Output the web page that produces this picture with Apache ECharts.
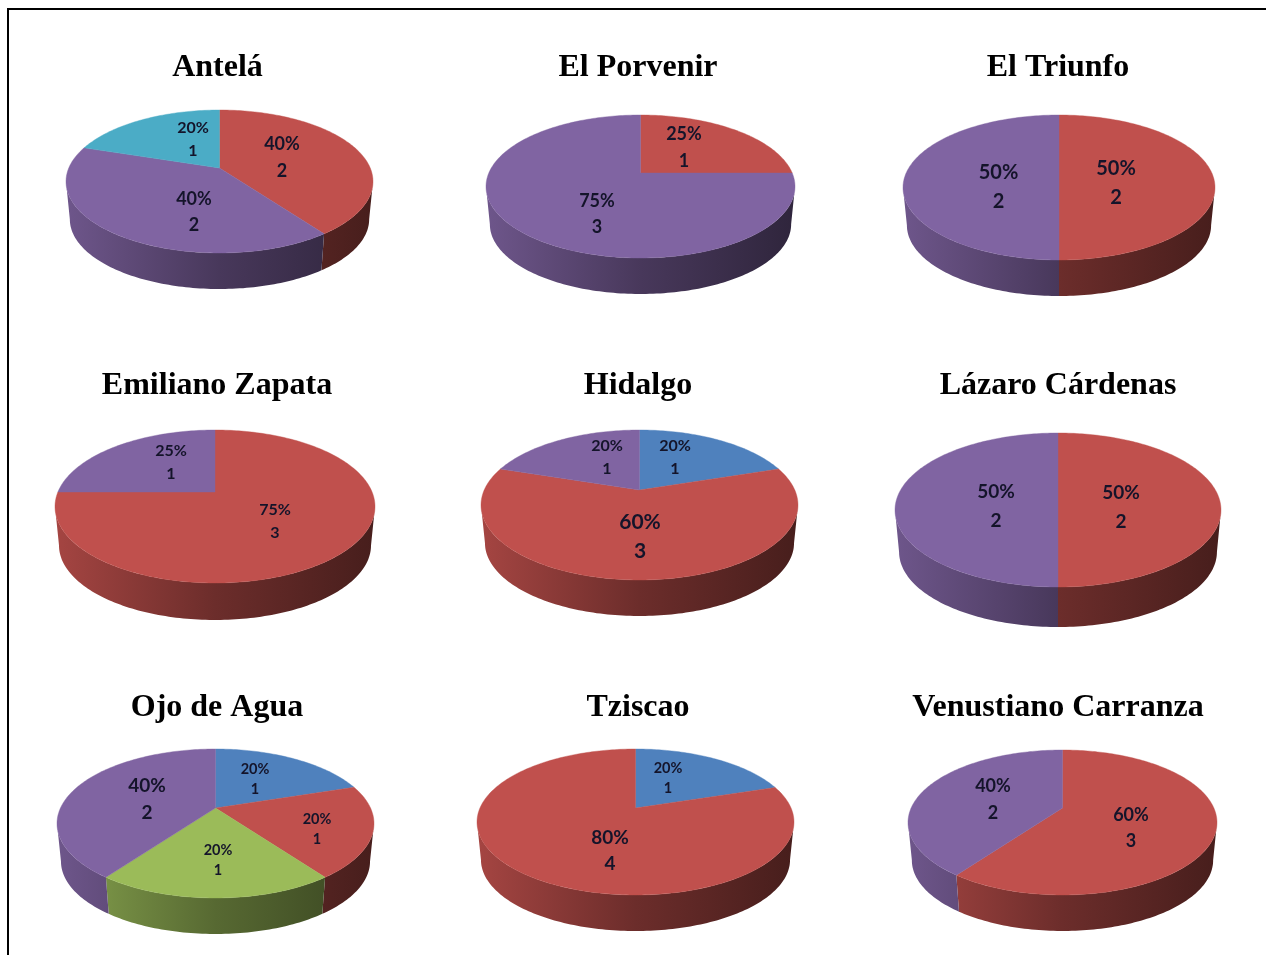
<!DOCTYPE html>
<html>
<head>
<meta charset="utf-8">
<style>html,body{margin:0;padding:0;background:#fff}#chart{width:1266px;height:955px}</style>
<script src="https://cdn.jsdelivr.net/npm/echarts@6/dist/echarts.min.js"></script>
</head>
<body>
<div id="chart"></div>
<script>
// Community names, one pie each
const pieNames = ['Antelá','El Porvenir','El Triunfo','Emiliano Zapata','Hidalgo','Lázaro Cárdenas','Ojo de Agua','Tziscao','Venustiano Carranza'];

// Counts per slice, clockwise from twelve o'clock
const antelaValues = [2, 2, 1];
const porvenirValues = [1, 3];
const triunfoValues = [2, 2];
const zapataValues = [3, 1];
const hidalgoValues = [1, 3, 1];
const cardenasValues = [2, 2];
const ojoValues = [1, 1, 1, 2];
const tziscaoValues = [1, 4];
const carranzaValues = [3, 2];
const pieValues = [antelaValues, porvenirValues, triunfoValues, zapataValues, hidalgoValues, cardenasValues, ojoValues, tziscaoValues, carranzaValues];

// Slice colours
const palette = { red: '#C0504D', purple: '#8064A2', blue: '#4F81BD', green: '#9BBB59', teal: '#4BACC6' };
const pieColors = [
  ['red','purple','teal'], ['red','purple'], ['red','purple'],
  ['red','purple'], ['blue','red','purple'], ['red','purple'],
  ['blue','red','green','purple'], ['blue','red'], ['red','purple']
];

// Tilted-disc outline of each pie: centre x, half width, top rim, apex y, front rim, base bottom
const discs = [
  [219.5,153.5,110,168,253,289], [640.5,154.5,115,173,258,294], [1059,156,115,175,260,296],
  [215,160,430,492,583,620],     [639.5,158.5,430,490,580,616], [1058,163,433,495,587,627],
  [215.5,158.5,749,808,898,934], [635.5,158.5,749,808,895,931], [1062.5,154.5,750,808,895,931]
];
// The base of each disc sits further from the viewer, so it draws a little narrower
const baseScale = 0.975;

// Title centres
const titleSpots = [[217.5,68],[638,68],[1058,68],[217,386],[638,386],[1058,386],[217,708],[638,708],[1058,708]];

// Slice label placement: x, y of block centre, font size, line height
const labelSpots = [
  [[282,157.5,18,27],[194,212,18,26],[193,139.5,16,23]],
  [[684,147.5,18,27],[597,214,18,26]],
  [[1116,183.5,20,29],[998.5,187.5,20,29]],
  [[275,521.5,16,23],[171,462.5,16,23]],
  [[675,457.5,16,23],[640,536.5,21,29],[607,457.5,16,23]],
  [[1121,507.5,19,29],[996,506.5,19,29]],
  [[255,779,14.5,20],[317,829,14.5,20],[218,860,14.5,20],[147,799.5,19,27]],
  [[668,778,14.5,20],[610,851,19,26]],
  [[1131,828,18,26],[993,799.5,18,27]]
];

function shade(hex, f) {
  const n = parseInt(hex.slice(1), 16);
  const c = [n >> 16 & 255, n >> 8 & 255, n & 255].map(v => Math.round(v * f));
  return 'rgb(' + c.join(',') + ')';
}

function perspectiveOf(d) {
  const up = d[3] - d[2], down = d[4] - d[3];
  return (down - up) / (down + up);
}

// Perspective projection of a point on the disc rim; theta runs clockwise from the top
function projector(d) {
  const cx = d[0], a = d[1], k = perspectiveOf(d);
  const b = (d[4] - d[3]) * (1 - k);
  const r = a * Math.sqrt(1 - k * k);
  return function (theta) {
    const u = Math.sin(theta), v = -Math.cos(theta), w = 1 - k * v;
    return [cx + r * u / w, d[3] + b * v / w];
  };
}

function arc(project, from, to) {
  const pts = [];
  const steps = Math.max(2, Math.ceil((to - from) / 0.02));
  for (let s = 0; s <= steps; s++) pts.push(project(from + (to - from) * s / steps));
  return pts;
}

function pieSeries(pieIndex) {
  const values = pieValues[pieIndex];
  const total = values.reduce((s, v) => s + v, 0);
  const disc = discs[pieIndex];
  const project = projector(disc);
  const x0 = disc[0] - disc[1], x1 = disc[0] + disc[1];
  // Only the front of the wall shows, between the two points where the rim turns back
  const frontStart = Math.acos(-perspectiveOf(disc));
  const frontEnd = Math.PI * 2 - frontStart;
  // Base rim: scaled about the apex, then lowered so its front meets the base bottom
  const drop = disc[5] - disc[3] - (disc[4] - disc[3]) * baseScale;
  const toBase = p => [disc[0] + (p[0] - disc[0]) * baseScale, disc[3] + (p[1] - disc[3]) * baseScale + drop];
  const rows = [];
  let acc = 0;
  values.forEach((v, i) => { rows.push([v, acc, i]); acc += v; });

  return {
    type: 'custom',
    coordinateSystem: 'none',
    silent: true,
    animation: false,
    data: rows,
    renderItem: function (params, api) {
      const value = api.value(0), before = api.value(1), i = api.value(2);
      const start = before / total * Math.PI * 2;
      const end = (before + value) / total * Math.PI * 2;
      const base = palette[pieColors[pieIndex][i]];
      const face = [[disc[0], disc[3]]].concat(arc(project, start, end));
      const spot = labelSpots[pieIndex][i];
      const children = [
        { type: 'polygon', z2: 2, shape: { points: face }, style: { fill: base, stroke: base, lineWidth: 0.4 } },
        {
          type: 'text', z2: 3, x: spot[0], y: spot[1],
          style: {
            text: Math.round(value / total * 100) + '%\n' + value,
            fill: '#14142a', font: '700 ' + spot[2] + 'px Lato', lineHeight: spot[3],
            align: 'center', verticalAlign: 'middle'
          }
        }
      ];
      const wallStart = Math.max(start, frontStart), wallEnd = Math.min(end, frontEnd);
      if (wallEnd > wallStart) {
        const rim = arc(project, wallStart, wallEnd);
        children.unshift({
          type: 'polygon', z2: 1,
          shape: { points: rim.concat(rim.slice().reverse().map(toBase)) },
          style: {
            fill: new echarts.graphic.LinearGradient(x0, 0, x1, 0, [
              { offset: 0, color: shade(base, 0.86) },
              { offset: 0.5, color: shade(base, 0.56) },
              { offset: 1, color: shade(base, 0.37) }
            ], true)
          }
        });
      }
      return { type: 'group', children: children };
    }
  };
}

const chart = echarts.init(document.getElementById('chart'), null, { renderer: 'canvas' });
chart.setOption({
  animation: false,
  backgroundColor: '#fff',
  title: pieNames.map((name, i) => ({
    text: name,
    left: titleSpots[i][0],
    top: titleSpots[i][1],
    padding: 0,
    textAlign: 'center',
    textVerticalAlign: 'middle',
    textStyle: { fontFamily: 'Liberation Serif', fontWeight: 'bold', fontSize: 32, color: '#000' }
  })),
  graphic: [{
    type: 'polyline',
    shape: { points: [[8, 955], [8, 9], [1266, 9]] },
    style: { stroke: '#000', lineWidth: 2, fill: null }
  }],
  series: pieNames.map((n, i) => pieSeries(i))
});
</script>
</body>
</html>
